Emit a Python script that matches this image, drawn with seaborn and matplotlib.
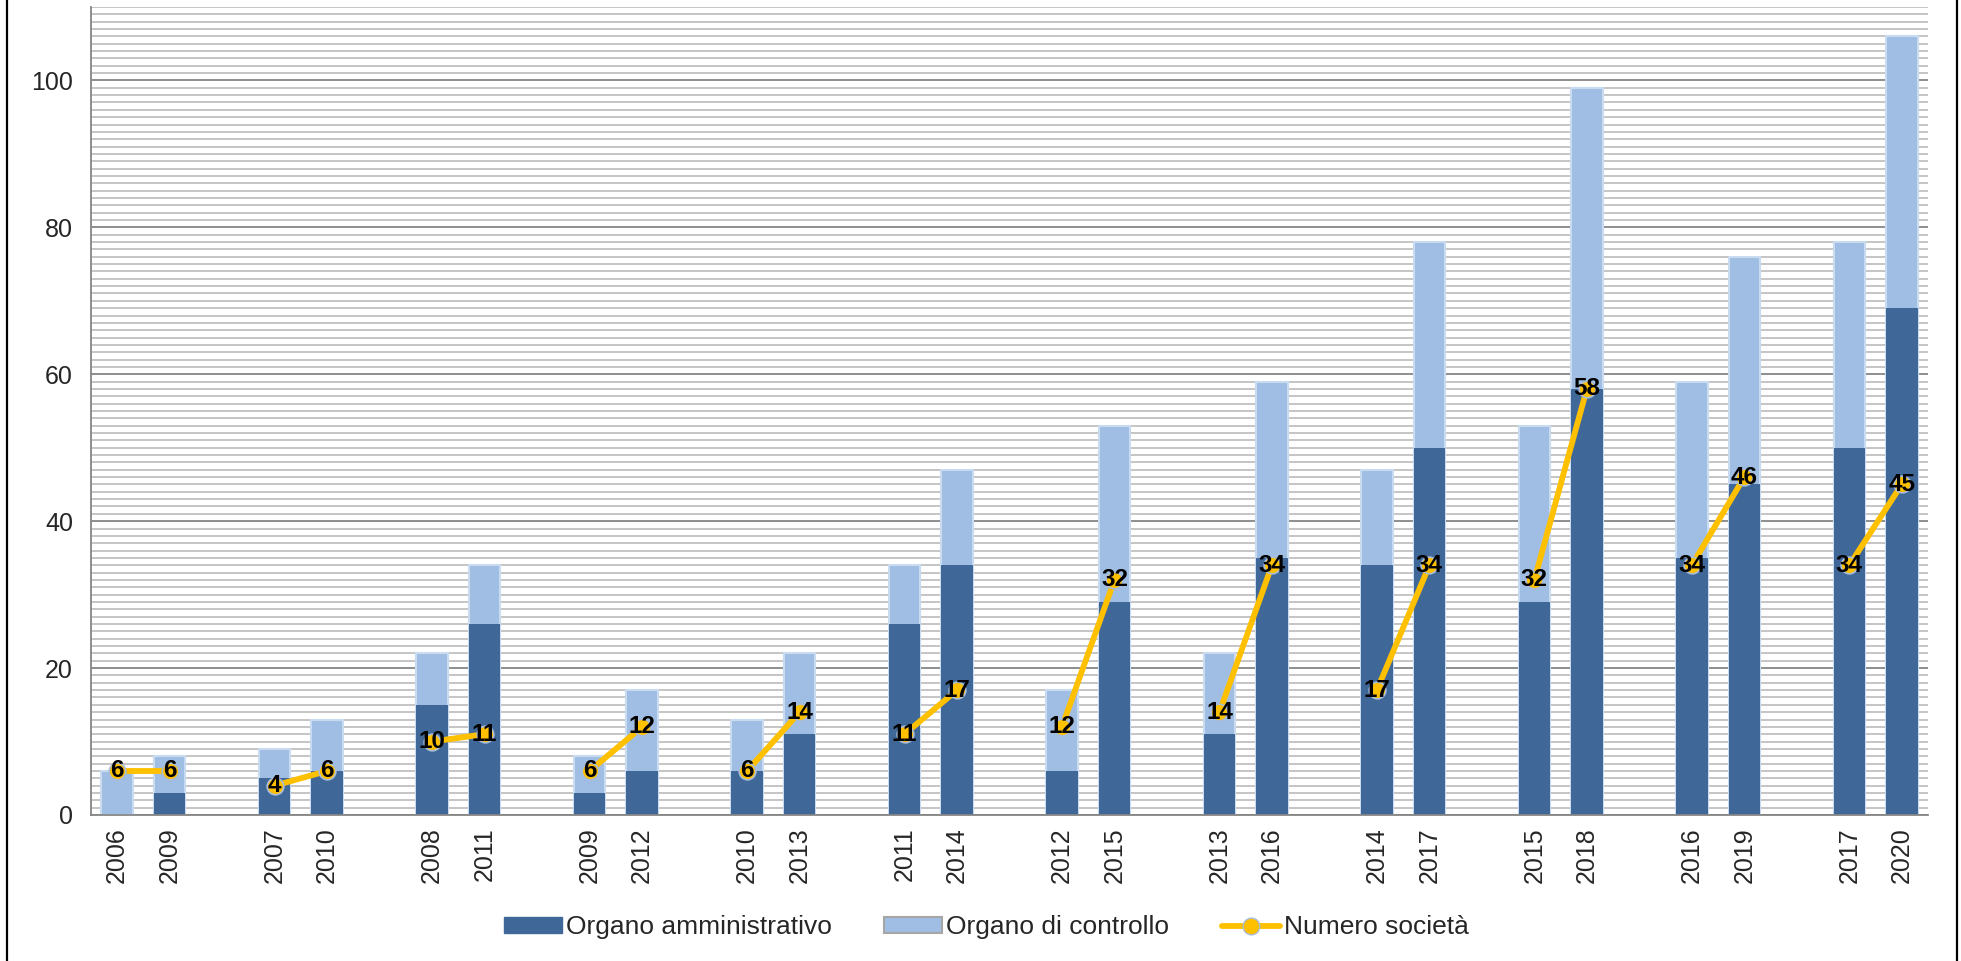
import numpy as np
import pandas as pd
import seaborn as sns
import matplotlib.pyplot as plt
from matplotlib.patches import Patch, Rectangle
from matplotlib.lines import Line2D

# dati: coppie di anni (anno base, anno di confronto)
anni = ['2006', '2009', '2007', '2010', '2008', '2011', '2009', '2012',
        '2010', '2013', '2011', '2014', '2012', '2015', '2013', '2016',
        '2014', '2017', '2015', '2018', '2016', '2019', '2017', '2020']
organo_amm = [0, 3, 5, 6, 15, 26, 3, 6, 6, 11, 26, 34,
              6, 29, 11, 35, 34, 50, 29, 58, 35, 45, 50, 69]
organo_ctrl = [6, 5, 4, 7, 7, 8, 5, 11, 7, 11, 8, 13,
               11, 24, 11, 24, 13, 28, 24, 41, 24, 31, 28, 37]
numero_societa = [6, 6, 4, 6, 10, 11, 6, 12, 6, 14, 11, 17,
                  12, 32, 14, 34, 17, 34, 32, 58, 34, 46, 34, 45]

SCURO = '#3F6898'
CHIARO = '#A0BEE3'
GIALLO = '#FFC000'

sns.set_style('white')
plt.rcParams['font.family'] = ['Liberation Sans', 'DejaVu Sans']

# ogni gruppo occupa 3 posizioni: due barre + uno spazio vuoto
gruppo = np.repeat(np.arange(12), 2)
pos = gruppo * 3 + np.tile([0, 1], 12)
df = pd.DataFrame({'pos': pos, 'gruppo': gruppo, 'anno': anni,
                   'amm': organo_amm, 'ctrl': organo_ctrl,
                   'societa': numero_societa})
df['totale'] = df['amm'] + df['ctrl']

fig = plt.figure(figsize=(19.61, 9.61), dpi=100)
ax = fig.add_axes([91 / 1961, 1 - 815 / 961, (1928 - 91) / 1961, (815 - 7) / 961])

sns.barplot(data=df, x='pos', y='totale', native_scale=True, color=CHIARO,
            width=0.6, edgecolor='#C9DBF0', linewidth=1.5, errorbar=None,
            saturation=1, ax=ax)
sns.barplot(data=df, x='pos', y='amm', native_scale=True, color=SCURO,
            width=0.6, linewidth=0, errorbar=None, saturation=1, ax=ax)
sns.lineplot(data=df, x='pos', y='societa', units='gruppo', estimator=None,
             color=GIALLO, lw=4.2, marker='o', markersize=12,
             markerfacecolor=GIALLO, markeredgecolor='#A9BCD8',
             markeredgewidth=1.2, legend=False, ax=ax)

for _, r in df.iterrows():
    ax.text(r['pos'], r['societa'], str(r['societa']), ha='center', va='center',
            fontsize=17.5, fontweight='bold', color='black', zorder=5)

ax.set_xlim(-0.5, 34.5)
ax.set_ylim(0, 110)
ax.set_xticks(df['pos'])
ax.set_xticklabels(df['anno'], rotation=90, fontsize=18)
ax.set_xticks(np.arange(-0.5, 35, 1), minor=True)
ax.tick_params(axis='x', which='major', length=0, pad=9)
ax.tick_params(axis='x', which='minor', length=8, width=1.2, color='#868686')
ax.set_yticks(np.arange(0, 101, 20))
ax.set_yticks(np.arange(0, 111, 1), minor=True)
ax.tick_params(axis='y', which='major', length=8, width=1.2, color='#868686',
               labelsize=18, pad=5)
ax.tick_params(axis='y', which='minor', length=0)
ax.set_axisbelow(True)
ax.yaxis.grid(True, which='minor', color='#B5B5B5', lw=1.1)
ax.yaxis.grid(True, which='major', color='#858585', lw=1.3)
ax.set_xlabel('')
ax.set_ylabel('')
for s in ['top', 'right']:
    ax.spines[s].set_visible(False)
for s in ['left', 'bottom']:
    ax.spines[s].set_color('#868686')
    ax.spines[s].set_linewidth(1.3)

handles = [Patch(facecolor=SCURO, edgecolor=SCURO),
           Patch(facecolor=CHIARO, edgecolor='#A6A6A6', lw=1.5),
           Line2D([], [], color=GIALLO, lw=4.2, marker='o', markersize=12,
                  markerfacecolor=GIALLO, markeredgecolor='#A9BCD8')]
fig.legend(handles, ['Organo amministrativo', 'Organo di controllo', 'Numero società'],
           loc='center', bbox_to_anchor=(0.503, 0.035), ncol=3, frameon=False,
           fontsize=19, handlelength=2.2, handleheight=0.6, handletextpad=0.15,
           columnspacing=2.0)

# cornice esterna del grafico
fig.add_artist(Rectangle((7 / 1961, -0.05), 1950 / 1961, 1.1, transform=fig.transFigure,
                         fill=False, edgecolor='black', lw=1.6))

fig.savefig('out.png', dpi=100)
